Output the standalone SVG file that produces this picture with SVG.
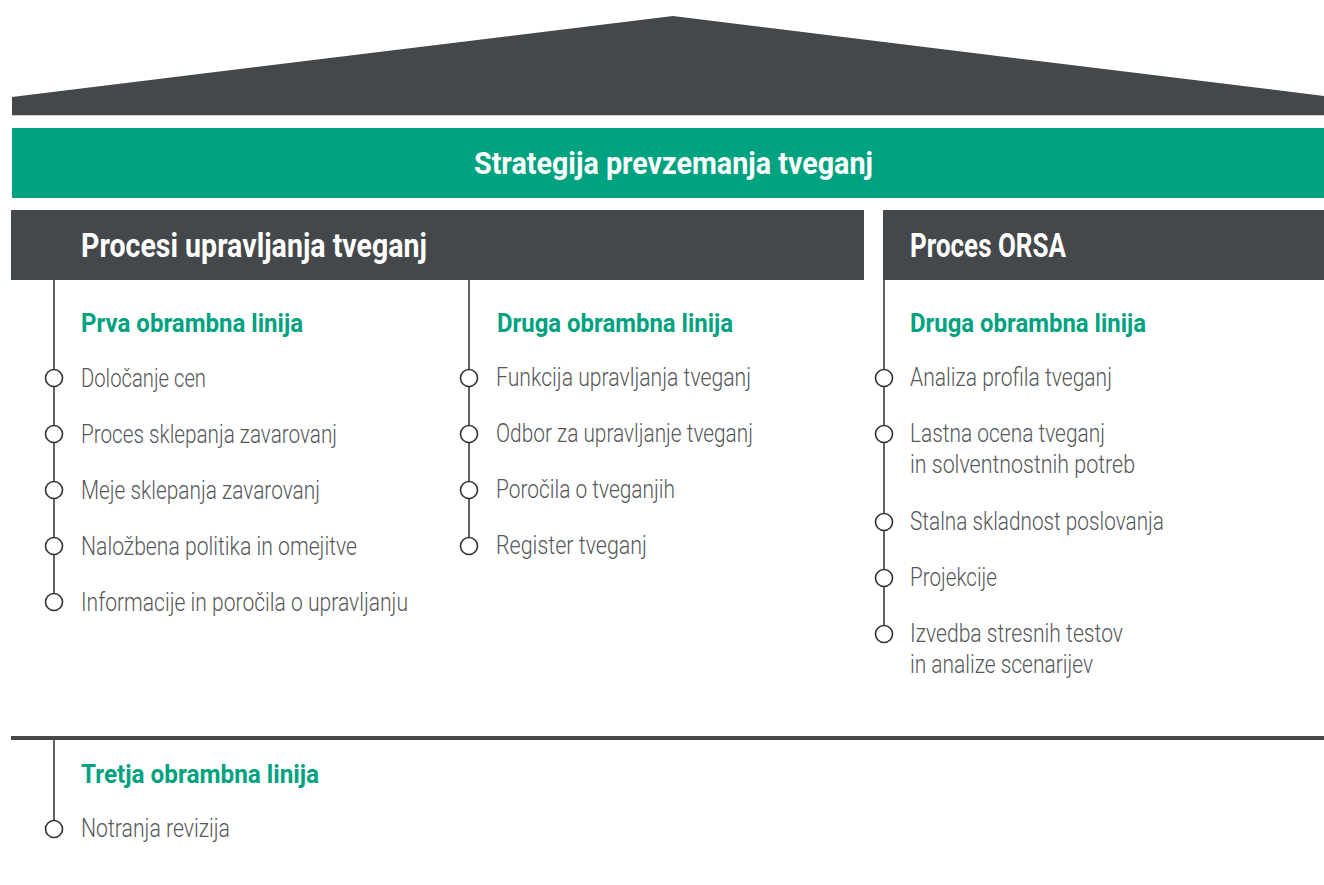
<svg xmlns="http://www.w3.org/2000/svg" width="1324" height="885" viewBox="0 0 1324 885">
<style>
.dark{fill:#45484b}
.green{fill:#00a27f}
.title{font-family:Roboto,"Liberation Sans",sans-serif;font-weight:700;fill:#fff}
.sub{font-family:Roboto,"Liberation Sans",sans-serif;font-weight:700;font-size:25px;fill:#00a27f}
.item{font-family:Roboto,"Liberation Sans",sans-serif;font-weight:300;font-size:25px;fill:#555759}
.vl{stroke:#3a3a3a;stroke-width:1.6;fill:none}
.dot{fill:#fff;stroke:#333;stroke-width:1.6}
</style>
<rect width="1324" height="885" fill="#fff"/>
<g id="roof">
<polygon class="dark" points="12,97 673,16 1324,96 1324,115 12,115"/>
<line x1="12" y1="115.5" x2="1324" y2="115.5" stroke="#c8c9ca" stroke-width="1"/>
</g>
<g id="strategy">
<rect class="green" x="12" y="128" width="1312" height="70"/>
<text class="title" x="474" y="174" font-size="32" textLength="399" lengthAdjust="spacingAndGlyphs">Strategija prevzemanja tveganj</text>
</g>
<g id="header-procesi">
<rect class="dark" x="11" y="210" width="853" height="70"/>
<text class="title" x="81" y="257" font-size="34" textLength="346" lengthAdjust="spacingAndGlyphs">Procesi upravljanja tveganj</text>
</g>
<g id="header-orsa">
<rect class="dark" x="883" y="210" width="441" height="70"/>
<text class="title" x="910" y="257" font-size="34" textLength="156" lengthAdjust="spacingAndGlyphs">Proces ORSA</text>
</g>
<g id="bottom-bar">
<rect class="dark" x="11" y="736" width="1313" height="4"/>
</g>
<g id="connectors">
<line class="vl" x1="54" y1="280" x2="54" y2="602"/>
<line class="vl" x1="469" y1="280" x2="469" y2="546"/>
<line class="vl" x1="884" y1="280" x2="884" y2="634"/>
<line class="vl" x1="54" y1="740" x2="54" y2="829"/>
</g>
<g id="prva">
<text class="sub" x="81" y="332" textLength="222" lengthAdjust="spacingAndGlyphs">Prva obrambna linija</text>
<circle class="dot" cx="54" cy="378" r="8.5"/>
<text class="item" x="81" y="387" textLength="125" lengthAdjust="spacingAndGlyphs">Določanje cen</text>
<circle class="dot" cx="54" cy="434" r="8.5"/>
<text class="item" x="81" y="443" textLength="256" lengthAdjust="spacingAndGlyphs">Proces sklepanja zavarovanj</text>
<circle class="dot" cx="54" cy="490" r="8.5"/>
<text class="item" x="81" y="499" textLength="239" lengthAdjust="spacingAndGlyphs">Meje sklepanja zavarovanj</text>
<circle class="dot" cx="54" cy="546" r="8.5"/>
<text class="item" x="81" y="555" textLength="276" lengthAdjust="spacingAndGlyphs">Naložbena politika in omejitve</text>
<circle class="dot" cx="54" cy="602" r="8.5"/>
<text class="item" x="81" y="611" textLength="327" lengthAdjust="spacingAndGlyphs">Informacije in poročila o upravljanju</text>
</g>
<g id="druga-procesi">
<text class="sub" x="497" y="332" textLength="236" lengthAdjust="spacingAndGlyphs">Druga obrambna linija</text>
<circle class="dot" cx="469" cy="378" r="8.5"/>
<text class="item" x="496" y="386" textLength="255" lengthAdjust="spacingAndGlyphs">Funkcija upravljanja tveganj</text>
<circle class="dot" cx="469" cy="434" r="8.5"/>
<text class="item" x="496" y="442" textLength="257" lengthAdjust="spacingAndGlyphs">Odbor za upravljanje tveganj</text>
<circle class="dot" cx="469" cy="490" r="8.5"/>
<text class="item" x="496" y="498" textLength="179" lengthAdjust="spacingAndGlyphs">Poročila o tveganjih</text>
<circle class="dot" cx="469" cy="546" r="8.5"/>
<text class="item" x="496" y="554" textLength="151" lengthAdjust="spacingAndGlyphs">Register tveganj</text>
</g>
<g id="druga-orsa">
<text class="sub" x="910" y="332" textLength="236" lengthAdjust="spacingAndGlyphs">Druga obrambna linija</text>
<circle class="dot" cx="884" cy="378" r="8.5"/>
<text class="item" x="910" y="386" textLength="202" lengthAdjust="spacingAndGlyphs">Analiza profila tveganj</text>
<circle class="dot" cx="884" cy="434" r="8.5"/>
<text class="item" x="910" y="442" textLength="195" lengthAdjust="spacingAndGlyphs">Lastna ocena tveganj</text>
<text class="item" x="910" y="473" textLength="225" lengthAdjust="spacingAndGlyphs">in solventnostnih potreb</text>
<circle class="dot" cx="884" cy="522" r="8.5"/>
<text class="item" x="910" y="530" textLength="254" lengthAdjust="spacingAndGlyphs">Stalna skladnost poslovanja</text>
<circle class="dot" cx="884" cy="578" r="8.5"/>
<text class="item" x="910" y="586" textLength="87" lengthAdjust="spacingAndGlyphs">Projekcije</text>
<circle class="dot" cx="884" cy="634" r="8.5"/>
<text class="item" x="910" y="642" textLength="213" lengthAdjust="spacingAndGlyphs">Izvedba stresnih testov</text>
<text class="item" x="910" y="673" textLength="183" lengthAdjust="spacingAndGlyphs">in analize scenarijev</text>
</g>
<g id="tretja">
<text class="sub" x="81" y="783" textLength="238" lengthAdjust="spacingAndGlyphs">Tretja obrambna linija</text>
<circle class="dot" cx="54" cy="829" r="8.5"/>
<text class="item" x="81" y="837" textLength="149" lengthAdjust="spacingAndGlyphs">Notranja revizija</text>
</g>
</svg>
